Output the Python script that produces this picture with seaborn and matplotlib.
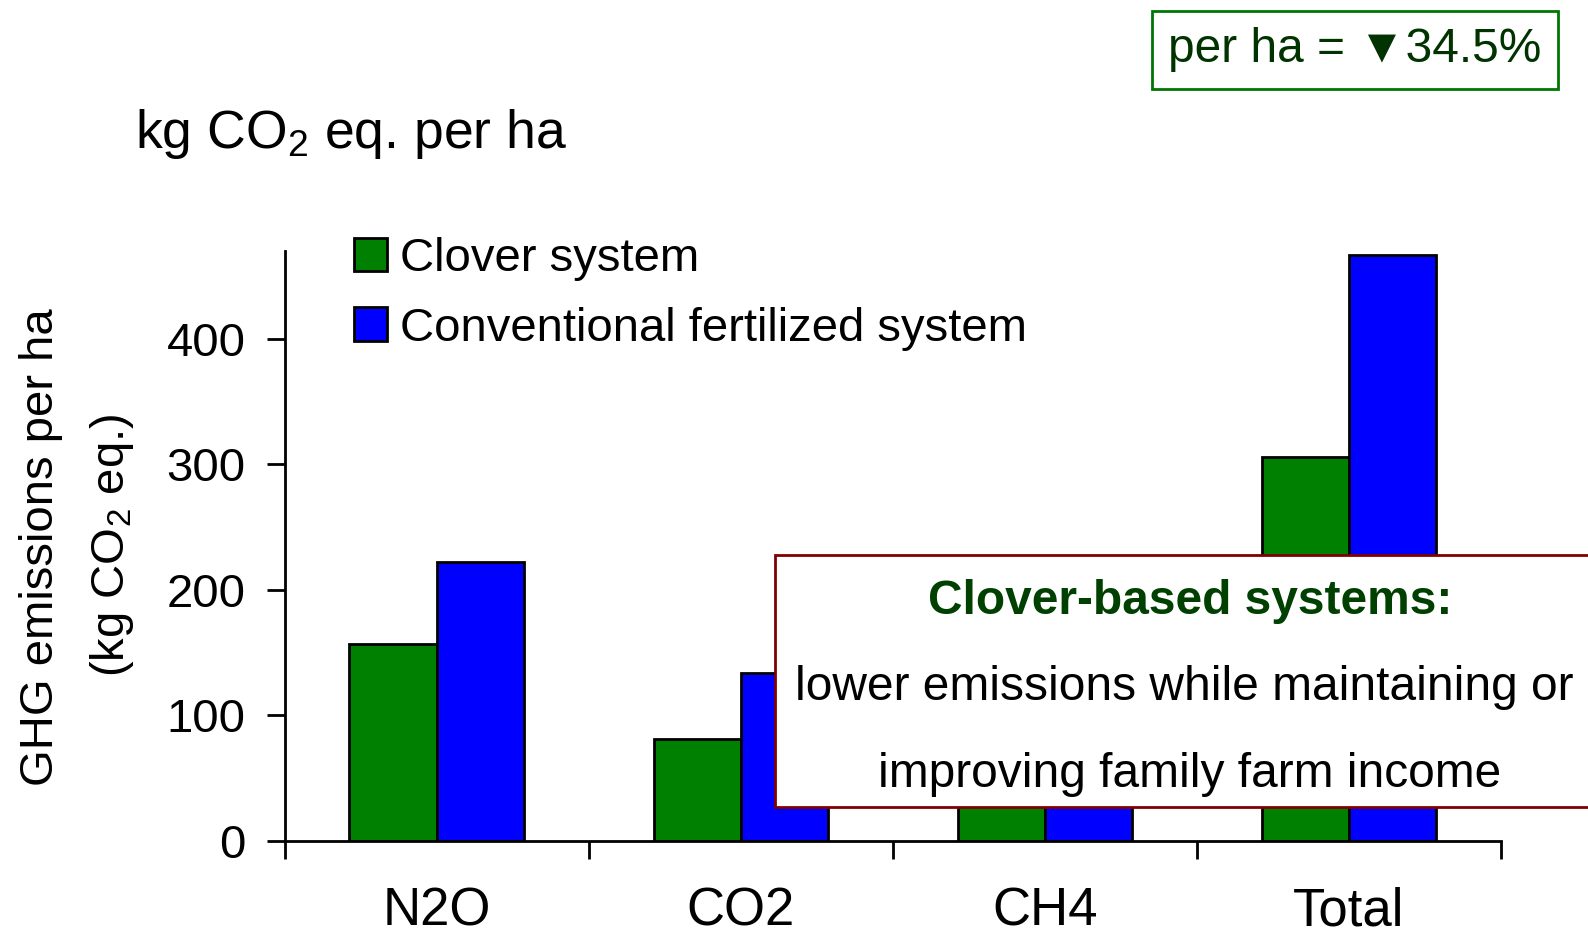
import matplotlib
matplotlib.use("Agg")
import matplotlib.pyplot as plt
import matplotlib.patches as mpatches
import seaborn as sns
import pandas as pd

# Emission categories and per-hectare values (kg CO2 eq.)
gases = ["N2O", "CO2", "CH4", "Total"]
clover = [157, 81, 68, 306]
conventional = [222, 134, 111, 467]
systems = ["Clover system", "Conventional fertilized system"]
yticks = [0, 100, 200, 300, 400]

GREEN = "#008000"
BLUE = "#0000FF"

sns.set_theme(style="white")
plt.rcParams["font.family"] = ["Liberation Sans", "DejaVu Sans"]
plt.rcParams["mathtext.fontset"] = "custom"
plt.rcParams["mathtext.rm"] = "Liberation Sans"
plt.rcParams["mathtext.it"] = "Liberation Sans"
plt.rcParams["mathtext.default"] = "regular"
for key in ["text.color", "axes.labelcolor", "xtick.color", "ytick.color"]:
    plt.rcParams[key] = "black"

df = pd.DataFrame({
    "gas": gases * 2,
    "value": clover + conventional,
    "system": [systems[0]] * len(gases) + [systems[1]] * len(gases),
})

fig = plt.figure(figsize=(15.88, 9.46), dpi=100)
ax = fig.add_axes([0.1792, 0.1114, 0.9452 - 0.1792, 0.7347 - 0.1114])

sns.barplot(data=df, x="gas", y="value", hue="system", order=gases,
            hue_order=systems, palette=[GREEN, BLUE], saturation=1,
            width=0.573, edgecolor="black", linewidth=2, ax=ax)

ax.set_xlim(-0.5, len(gases) - 0.5)
ax.set_ylim(0, 470)
ax.set_yticks(yticks)
ax.set_xlabel("")
ax.set_ylabel("")

for s in ["top", "right"]:
    ax.spines[s].set_visible(False)
for s in ["left", "bottom"]:
    ax.spines[s].set_color("black")
    ax.spines[s].set_linewidth(2)

ax.tick_params(axis="y", which="major", direction="out", length=13, width=2,
               color="black", labelsize=34, pad=15, left=True)
ax.set_xticks([i - 0.5 for i in range(len(gases) + 1)], minor=True)
ax.tick_params(axis="x", which="minor", direction="out", length=13, width=2,
               color="black", bottom=True)
ax.tick_params(axis="x", which="major", length=0, labelsize=38, pad=33)

# Legend in the upper-left of the plot
handles = [mpatches.Patch(facecolor=GREEN, edgecolor="black", linewidth=2),
           mpatches.Patch(facecolor=BLUE, edgecolor="black", linewidth=2)]
ax.legend(handles, systems, loc="upper left",
          bbox_to_anchor=(354 / 1588, 1 - 237 / 946),
          bbox_transform=fig.transFigure, frameon=False, fontsize=34,
          handlelength=0.7, handleheight=0.7, handletextpad=0.27,
          labelspacing=0.54, borderaxespad=0, borderpad=0)

# Axis title lines
fig.text(41 / 1588, 1 - 547 / 946, "GHG emissions per ha", rotation=90,
         ha="center", va="center", fontsize=34)
fig.text(112 / 1588, 1 - 545 / 946, r"(kg CO$_2$ eq.)", rotation=90,
         ha="center", va="center", fontsize=34)

fig.text(135 / 1588, 1 - 134 / 946, r"kg CO$_2$ eq. per ha",
         ha="left", va="center", fontsize=38.5)

# Reduction badge
fig.text(1355 / 1588, 1 - 50 / 946, "per ha = \u25BC34.5%", ha="center",
         va="center", fontsize=34.5, color="#003300",
         bbox=dict(boxstyle="square,pad=0.35", facecolor="white",
                   edgecolor="#007700", linewidth=2))

# Callout box
box = mpatches.Rectangle((775 / 1588, 1 - 807 / 946), 0.6, (807 - 555) / 946,
                         transform=fig.transFigure, facecolor="white",
                         edgecolor="#800000", linewidth=2, zorder=5)
fig.add_artist(box)
fig.text(1190 / 1588, 1 - 601 / 946, "Clover-based systems:", ha="center",
         va="center", fontsize=34.5, fontweight="bold", color="#004000",
         zorder=6)
fig.text(1184 / 1588, 1 - 687 / 946, "lower emissions while maintaining or",
         ha="center", va="center", fontsize=34.5, color="black", zorder=6)
fig.text(1190 / 1588, 1 - 774 / 946, "improving family farm income",
         ha="center", va="center", fontsize=34.5, color="black", zorder=6)

fig.savefig("out.png", dpi=100)
